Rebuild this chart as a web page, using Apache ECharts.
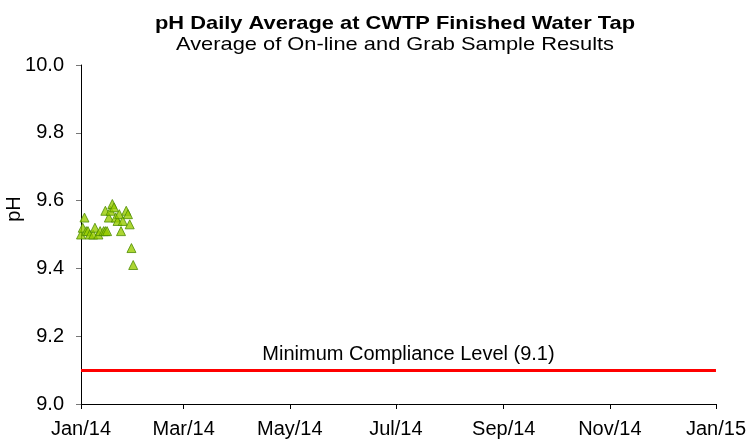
<!DOCTYPE html>
<html>
<head>
<meta charset="utf-8">
<script src="https://cdn.jsdelivr.net/npm/echarts@6/dist/echarts.min.js"></script>
<style>
  html, body { margin: 0; padding: 0; background: #fff; }
  #chart { width: 749px; height: 439px; }
</style>
</head>
<body>
<div id="chart"></div>
<script>
// daily pH readings, Jan 2014
var dates = ['2014-01-01','2014-01-02','2014-01-03','2014-01-04','2014-01-05','2014-01-06','2014-01-08',
  '2014-01-09','2014-01-11','2014-01-12','2014-01-14','2014-01-15','2014-01-15','2014-01-16',
  '2014-01-17','2014-01-18','2014-01-19','2014-01-20','2014-01-21','2014-01-22','2014-01-23',
  '2014-01-24','2014-01-25','2014-01-27','2014-01-28','2014-01-29','2014-01-30','2014-01-31'];
var phValues = [9.50, 9.52, 9.55, 9.51, 9.51, 9.50, 9.50,
  9.52, 9.50, 9.51, 9.51, 9.51, 9.57, 9.51,
  9.55, 9.57, 9.59, 9.58, 9.55, 9.54, 9.56,
  9.51, 9.54, 9.57, 9.56, 9.53, 9.46, 9.41];
var minCompliance = 9.1;
var tickDates = ['2014-01-01','2014-03-01','2014-05-01','2014-07-01','2014-09-01','2014-11-01','2015-01-01'];
var monthNames = ['Jan','Feb','Mar','Apr','May','Jun','Jul','Aug','Sep','Oct','Nov','Dec'];

function toTime(s) {
  var p = s.split('-');
  return Date.UTC(+p[0], +p[1] - 1, +p[2]);
}
var tickTimes = tickDates.map(toTime);
var points = dates.map(function (d, i) { return [toTime(d), phValues[i]]; });

var font = '"Liberation Sans", Arial, sans-serif';
var chart = echarts.init(document.getElementById('chart'));
var option = {
  animation: false,
  // titles drawn as graphic text so they can be stretched a bit like the original
  graphic: [{
    type: 'text',
    x: 395, y: 24,
    scaleX: 1.15,
    style: { text: 'pH Daily Average at CWTP Finished Water Tap', fontFamily: font, fontSize: 19, fontWeight: 'bold',
      fill: '#000', align: 'center', verticalAlign: 'middle' }
  }, {
    type: 'text',
    x: 395, y: 45,
    scaleX: 1.15,
    style: { text: 'Average of On-line and Grab Sample Results', fontFamily: font, fontSize: 19,
      fill: '#000', align: 'center', verticalAlign: 'middle' }
  }, {
    type: 'text',
    x: 14, y: 209,
    rotation: Math.PI / 2,
    style: { text: 'pH', fontFamily: font, fontSize: 20, fill: '#000', align: 'center', verticalAlign: 'middle' }
  }],
  grid: { left: 81, right: 33, top: 65, bottom: 34 },
  xAxis: {
    type: 'value',
    min: tickTimes[0],
    max: tickTimes[tickTimes.length - 1],
    splitLine: { show: false },
    axisLine: { lineStyle: { color: '#000', width: 1 } },
    axisTick: { show: true, length: 5, customValues: tickTimes, lineStyle: { color: '#000' } },
    axisLabel: {
      customValues: tickTimes,
      color: '#000', fontFamily: font, fontSize: 20, margin: 15,
      formatter: function (v) {
        var d = new Date(v);
        return monthNames[d.getUTCMonth()] + '/' + String(d.getUTCFullYear()).slice(2);
      }
    }
  },
  yAxis: {
    type: 'value',
    min: 9.0, max: 10.0, interval: 0.2,
    splitLine: { show: false },
    axisLine: { show: true, lineStyle: { color: '#000', width: 1 } },
    axisTick: { show: true, length: 5, lineStyle: { color: '#777' } },
    axisLabel: {
      color: '#000', fontFamily: font, fontSize: 20, margin: 17,
      formatter: function (v) { return v.toFixed(1); }
    }
  },
  series: [{
    type: 'scatter',
    data: points,
    symbol: 'triangle',
    symbolSize: 9,
    itemStyle: { color: '#99cc00', borderColor: '#4d8c00', borderWidth: 1 },
    markLine: {
      silent: true,
      symbol: 'none',
      data: [{ yAxis: minCompliance }],
      lineStyle: { color: '#ff0000', width: 3, type: 'solid' },
      label: {
        show: true,
        position: 'insideMiddleTop',
        formatter: 'Minimum Compliance Level (9.1)',
        color: '#000', fontFamily: font, fontSize: 20,
        distance: 6,
        offset: [10, 0]
      }
    }
  }]
};
chart.setOption(option);
</script>
</body>
</html>
